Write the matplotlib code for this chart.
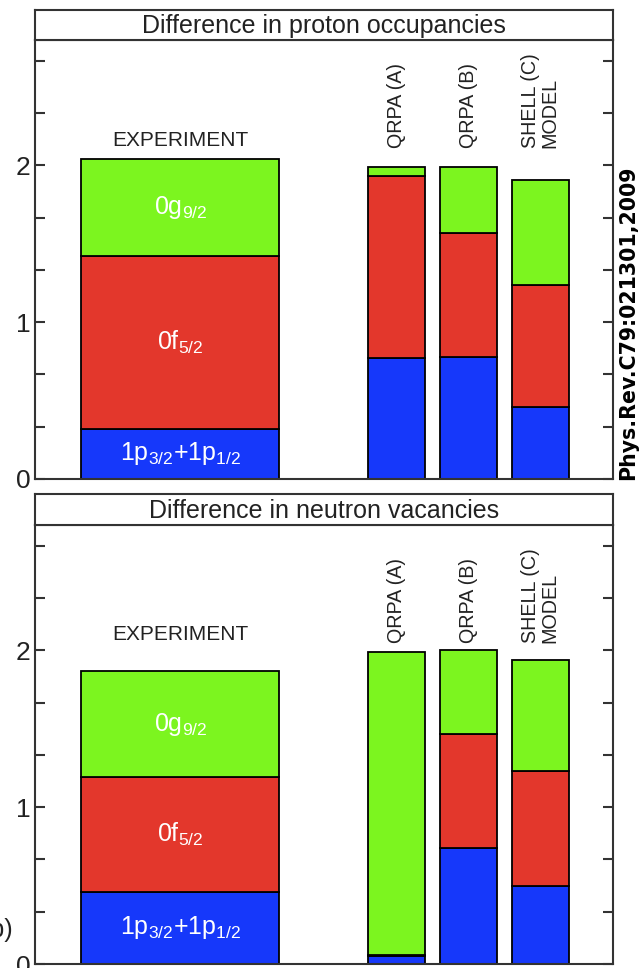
import numpy as np
import matplotlib
matplotlib.use('Agg')
import matplotlib.pyplot as plt

# shell-occupancy differences, stacked from 1p up to 0g
categories = ['EXPERIMENT', 'QRPA (A)', 'QRPA (B)', 'SHELL (C)\nMODEL']
shells = [r'1p$_{3/2}$+1p$_{1/2}$', r'0f$_{5/2}$', r'0g$_{9/2}$']

proton_p = [0.32, 0.77, 0.78, 0.46]
proton_f = [1.10, 1.16, 0.79, 0.78]
proton_g = [0.62, 0.06, 0.42, 0.67]

neutron_p = [0.46, 0.05, 0.74, 0.50]
neutron_f = [0.73, 0.01, 0.73, 0.73]
neutron_g = [0.68, 1.93, 0.53, 0.71]

titles = ['Difference in proton occupancies', 'Difference in neutron vacancies']
ref_label = 'Phys.Rev.C79:021301,2009'

colors = ['#1638fa', '#e3372c', '#7cf51f']
ink = '#222222'

plt.rcParams['font.family'] = ['Liberation Sans', 'DejaVu Sans']
plt.rcParams['mathtext.default'] = 'regular'

x_pos = [2.0, 5.0, 6.0, 7.0]
widths = [2.75, 0.8, 0.8, 0.8]

fig = plt.figure(figsize=(6.4, 9.68), dpi=100)

W, H = 640.0, 968.0
# (data area top, data area bottom, title band top) in pixels
panels = [(40, 479, 10), (525, 964, 494)]
exp_label_y = [2.16, 2.10]
model_label_y = [2.11, 2.05]
data = [(proton_p, proton_f, proton_g), (neutron_p, neutron_f, neutron_g)]

for i, (top, bot, band) in enumerate(panels):
    ax = fig.add_axes([35 / W, 1 - bot / H, 578 / W, (bot - top) / H])
    tax = fig.add_axes([35 / W, 1 - top / H, 578 / W, (top - band) / H])

    bottom = np.zeros(len(categories))
    for vals, col, lab in zip(data[i], colors, shells):
        vals = np.array(vals)
        ax.bar(x_pos, vals, width=widths, bottom=bottom, color=col,
               edgecolor='black', linewidth=1.3, zorder=2)
        ax.text(x_pos[0], bottom[0] + vals[0] / 2, lab, color='white',
                ha='center', va='center', fontsize=18, zorder=3)
        bottom += vals

    ax.text(x_pos[0], exp_label_y[i], categories[0], ha='center', va='center',
            fontsize=15, color=ink)
    for x, cat in zip(x_pos[1:], categories[1:]):
        ax.text(x, model_label_y[i], cat, rotation=90, rotation_mode='anchor',
                ha='left', va='center', multialignment='left', linespacing=1.0,
                fontsize=14.2, color=ink)

    ax.set_xlim(-0.02, 8.01)
    ax.set_ylim(0, 2.8)
    ax.set_xticks([])
    ax.set_yticks([0, 1, 2])
    ax.set_yticks([v / 3 for v in range(1, 9) if v % 3], minor=True)
    ax.tick_params(axis='y', which='both', direction='in', length=7, width=1.5,
                   left=True, right=True, color='#333333')
    ax.tick_params(axis='y', which='major', labelsize=19, labelcolor=ink, pad=3)
    for sp in ax.spines.values():
        sp.set_linewidth(1.5)
        sp.set_color('#333333')

    tax.set_xticks([])
    tax.set_yticks([])
    for sp in tax.spines.values():
        sp.set_linewidth(1.5)
        sp.set_color('#333333')
    tax.text(0.5, 0.45, titles[i], ha='center', va='center', fontsize=18,
             color=ink, transform=tax.transAxes)

fig.text(628 / W, 1 - 323 / H, ref_label, rotation=90, ha='center', va='center',
         fontsize=14.8, fontweight='bold', family='DejaVu Sans', color='black')
fig.text(13 / W, 1 - 930 / H, '(b)', ha='right', va='center', fontsize=18,
         color=ink)

fig.savefig('out.png', dpi=100)
